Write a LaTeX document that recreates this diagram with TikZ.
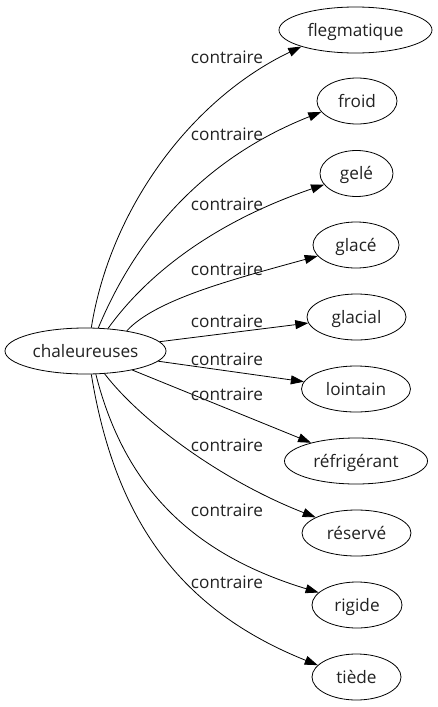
\documentclass[tikz,border=0pt]{standalone}
\usepackage{fontspec}
\setmainfont{Open Sans}
\usetikzlibrary{shapes.geometric,arrows.meta}
\definecolor{ink}{HTML}{222222}
\tikzset{
  word/.style={draw, ellipse, line width=0.8pt, inner sep=0pt, minimum height=46pt, text height=15pt, text depth=3pt, text=ink, font=\fontsize{17.2}{20}\selectfont},
  rel/.style={draw, line width=0.8pt, -{Triangle[length=13pt,width=9pt]}},
  lab/.style={anchor=base, inner sep=0pt, text=ink, font=\fontsize{17.2}{20}\selectfont}
}
\begin{document}
\begin{tikzpicture}[x=1pt,y=-1pt]
\useasboundingbox (0,0) rectangle (438,707);
\node[word, minimum width=161pt] (chal) at (85.5,351) {chaleureuses};
\node[word, minimum width=153pt] (flegmatique) at (355.5,30) {flegmatique};
\node[word, minimum width=80pt] (froid) at (357,101) {froid};
\node[word, minimum width=73pt] (gele) at (356.5,173.5) {gelé};
\node[word, minimum width=86pt] (glace) at (356,245) {glacé};
\node[word, minimum width=99pt] (glacial) at (356.5,317) {glacial};
\node[word, minimum width=109pt] (lointain) at (356,389) {lointain};
\node[word, minimum width=143pt] (refrigerant) at (356,461) {réfrigérant};
\node[word, minimum width=109pt] (reserve) at (356.5,533) {réservé};
\node[word, minimum width=90pt] (rigide) at (357,605) {rigide};
\node[word, minimum width=89pt] (tiede) at (356.5,677) {tiède};

\draw[rel] (chal.76) .. controls (110,210) and (190,100) .. (flegmatique.197.6);
\draw[rel] (chal.61.3) .. controls (135,240) and (200,160) .. (froid.197.5);
\draw[rel] (chal.45.7) .. controls (150,270) and (220,220) .. (gele.199.9);
\draw[rel] (chal.26.3) .. controls (155,300) and (230,280) .. (glace.196.3);
\draw[rel] (chal) -- (glacial);
\draw[rel] (chal) -- (lointain);
\draw[rel] (chal) -- (refrigerant);
\draw[rel] (chal.-50.6) .. controls (140,420) and (220,480) .. (reserve.159.8);
\draw[rel] (chal.-66) .. controls (125,490) and (195,555) .. (rigide.162.8);
\draw[rel] (chal.-76) .. controls (115,520) and (180,610) .. (tiede.163.9);

\node[lab] (l1) at (227,63) {contraire};
\node[lab] (l2) at (227,140) {contraire};
\node[lab] (l3) at (227,210) {contraire};
\node[lab] (l4) at (227,275) {contraire};
\node[lab] (l5) at (227,327) {contraire};
\node[lab] (l6) at (227,365) {contraire};
\node[lab] (l7) at (227,400) {contraire};
\node[lab] (l8) at (227,451.5) {contraire};
\node[lab] (l9) at (227,516.5) {contraire};
\node[lab] (l10) at (227,588) {contraire};
\end{tikzpicture}
\end{document}
